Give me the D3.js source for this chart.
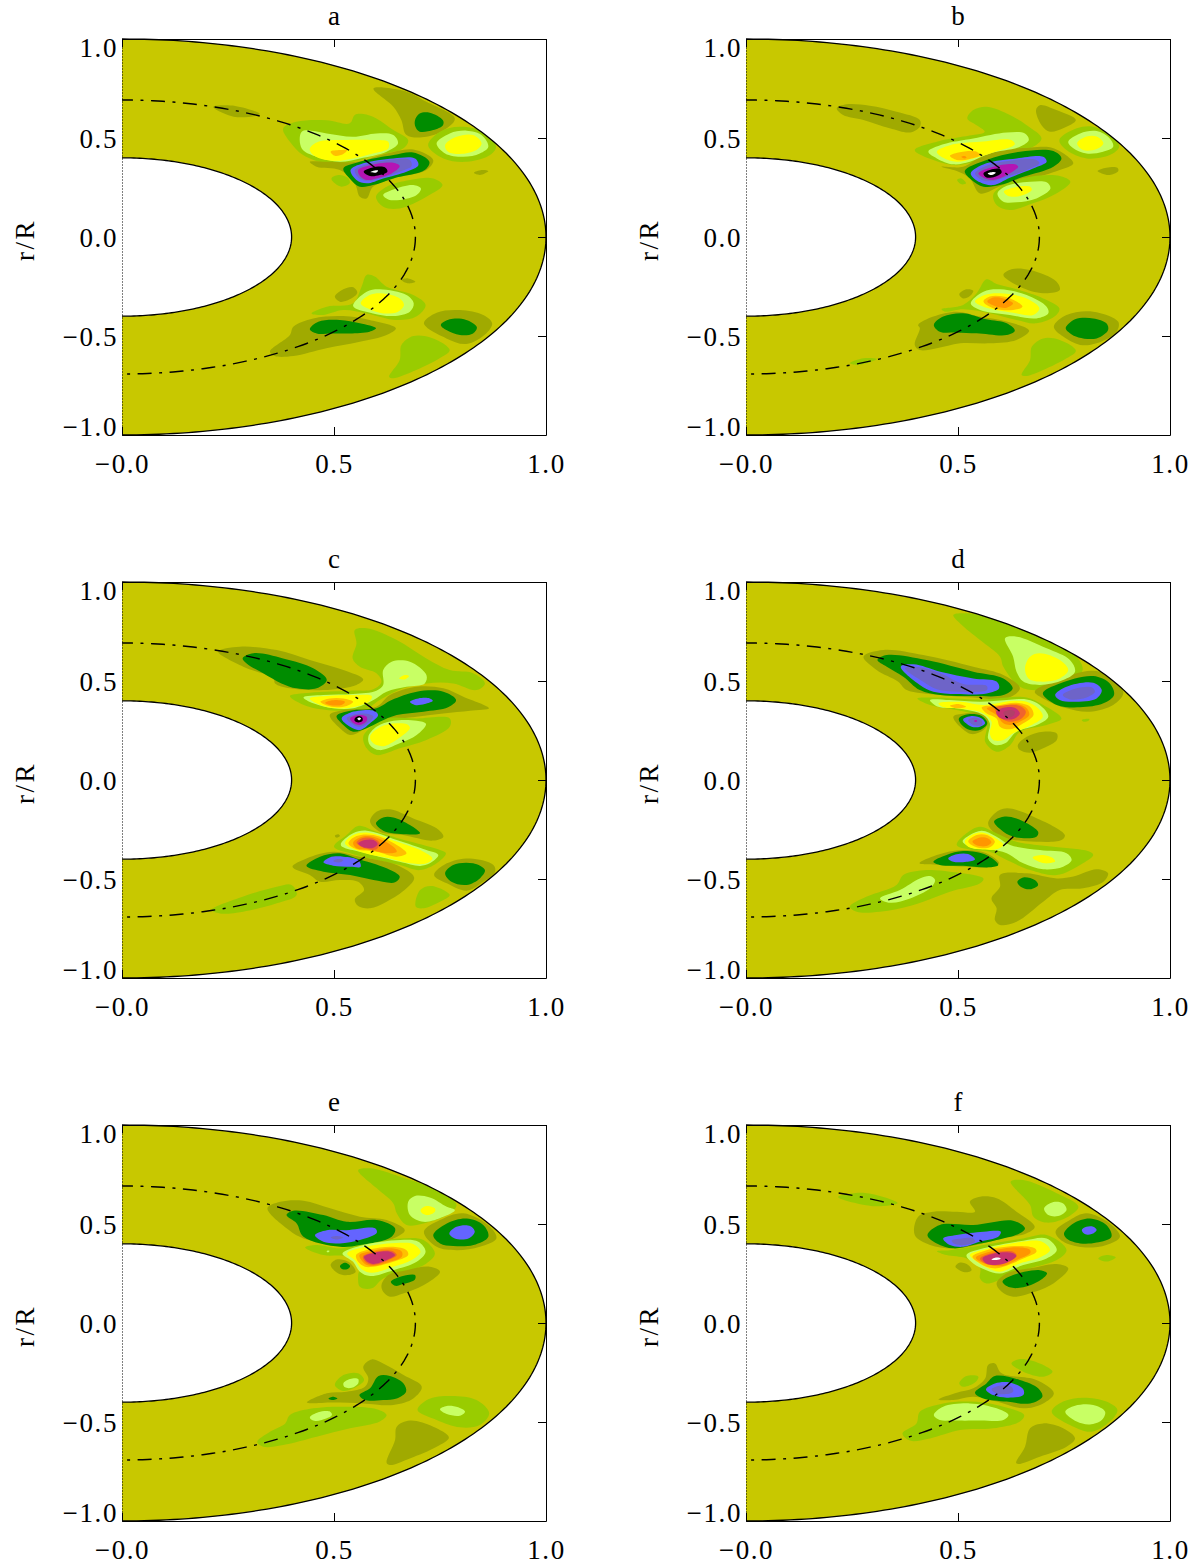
<!DOCTYPE html>
<html><head><meta charset="utf-8">
<script src="https://d3js.org/d3.v7.min.js"></script>
<style>html,body{margin:0;padding:0;background:#fff}svg{display:block}
text{font-family:"Liberation Serif",serif;fill:#000}</style></head><body>
<svg id="c" width="1197" height="1568"></svg>
<script>
const titles = ["a","b","c","d","e","f"];
const xTicks = [0, 0.5, 1];
const yTicks = [-1, -0.5, 0, 0.5, 1];
const xTickLabels = ["\u22120.0", "0.5", "1.0"];
const yTickLabels = ["\u22121.0", "\u22120.5", "0.0", "0.5", "1.0"];
const innerRadius = 0.4, midRadius = 0.692, outerRadius = 1;
const levelColors = {
 "-1":"#a0aa00","-2":"#008c00","-3":"#6464ff","-4":"#6e64c8","-5":"#b414b4","-6":"#000000","-7":"#ffffff",
 "1":"#99cc00","2":"#c8ff64","3":"#ffff00","4":"#ffc000","5":"#ff9600","6":"#f0642d","7":"#c83270","8":"#b04068","9":"#ffffff"};

const panelA = [
[-1,[.593,.75,.671,.734,.718,.683,.785,.599,.765,.548,.718,.506,.671,.515,.659,.590,.640,.658]],
[-2,[.691,.590,.702,.624,.726,.628,.757,.590,.757,.565,.734,.540,.702,.532,.692,.557]],
[1,[.380,.548,.411,.582,.483,.590,.537,.574,.549,.616,.569,.621,.600,.599,.640,.540,.675,.489,.663,.447,.600,.414,.545,.380,.483,.372,.427,.414,.396,.481]],
[2,[.424,.532,.483,.523,.545,.506,.600,.523,.640,.515,.651,.473,.624,.431,.561,.397,.514,.380,.459,.405,.424,.447]],
[3,[.443,.447,.463,.481,.522,.490,.592,.490,.628,.481,.628,.447,.592,.422,.545,.397,.506,.385,.467,.397,.447,.422]],
[4,[.492,.431,.514,.439,.531,.439,.522,.419,.502,.410]],
[-1,[.443,.380,.483,.380,.553,.380,.624,.422,.687,.442,.734,.389,.718,.338,.640,.296,.592,.254,.577,.195,.561,.203,.549,.270,.514,.338,.459,.355]],
[-2,[.522,.346,.561,.380,.640,.414,.687,.427,.725,.380,.714,.338,.640,.296,.592,.262,.561,.254,.537,.296]],
[-3,[.539,.338,.569,.372,.640,.397,.691,.397,.699,.363,.671,.330,.616,.296,.577,.271,.553,.288]],
[-4,[.549,.338,.577,.368,.640,.392,.679,.389,.683,.358,.655,.330,.608,.296,.577,.284,.557,.301]],
[-5,[.557,.338,.585,.363,.640,.375,.655,.358,.636,.321,.600,.296,.577,.288,.561,.308]],
[-6,[.570,.330,.589,.350,.620,.352,.626,.330,.608,.313,.585,.308]],
[-7,[.586,.328,.596,.336,.604,.336,.600,.326]],
[1,[.494,.296,.510,.313,.534,.296,.537,.271,.518,.254,.502,.271]],
[1,[.722,.464,.750,.532,.797,.557,.852,.532,.882,.456,.868,.414,.813,.380,.758,.397]],
[2,[.742,.473,.773,.523,.813,.537,.848,.515,.864,.456,.844,.422,.805,.405,.762,.422]],
[3,[.762,.464,.789,.506,.828,.515,.848,.473,.836,.439,.797,.419,.769,.431]],
[-1,[.830,.324,.848,.338,.864,.333,.844,.313]],
[1,[.599,.203,.624,.254,.679,.288,.734,.296,.756,.262,.718,.203,.655,.144,.616,.153]],
[2,[.616,.212,.640,.240,.687,.262,.705,.245,.695,.212,.655,.187,.628,.190]],
[-1,[.215,.657,.267,.662,.325,.621,.267,.606]],
[1,[.447,-.386,.483,-.352,.545,-.335,.565,-.251,.577,-.192,.596,-.200,.624,-.251,.687,-.293,.716,-.343,.694,-.402,.647,-.419,.577,-.386,.522,-.369,.474,-.394]],
[2,[.545,-.349,.577,-.276,.608,-.264,.671,-.293,.688,-.335,.679,-.377,.640,-.399,.592,-.386]],
[3,[.563,-.335,.584,-.293,.616,-.285,.655,-.310,.665,-.343,.651,-.377,.616,-.386,.584,-.365]],
[-1,[.502,-.301,.522,-.264,.545,-.254,.555,-.281,.537,-.315,.514,-.327]],
[-1,[.659,-.217,.675,-.209,.692,-.226,.675,-.234]],
[-1,[.349,-.579,.396,-.495,.404,-.453,.451,-.411,.522,-.399,.584,-.419,.646,-.461,.624,-.495,.561,-.529,.482,-.562,.404,-.601,.360,-.601]],
[-2,[.443,-.466,.463,-.428,.514,-.419,.561,-.436,.599,-.461,.584,-.478,.537,-.487,.494,-.487,.459,-.487]],
[-1,[.712,-.436,.742,-.382,.797,-.369,.852,-.394,.873,-.436,.859,-.487,.812,-.540,.765,-.512]],
[-2,[.752,-.444,.773,-.416,.812,-.419,.837,-.456,.828,-.487,.797,-.495,.765,-.470]],
[1,[.630,-.706,.655,-.621,.659,-.546,.687,-.500,.734,-.512,.773,-.571,.749,-.613,.694,-.672,.639,-.714]]
];

const panelB = [
[-1,[.214,.650,.237,.670,.292,.663,.355,.633,.410,.591,.410,.557,.387,.528,.339,.549,.277,.591,.229,.616]],
[1,[.398,.439,.450,.481,.512,.507,.563,.532,.544,.565,.522,.599,.536,.641,.567,.658,.615,.624,.662,.565,.697,.498,.670,.448,.607,.422,.552,.389,.497,.363,.442,.389]],
[2,[.430,.431,.465,.468,.536,.498,.615,.528,.658,.523,.667,.490,.646,.456,.575,.422,.528,.380,.489,.367,.450,.397]],
[3,[.450,.431,.481,.464,.552,.481,.626,.490,.634,.468,.583,.427,.536,.397,.497,.380,.465,.400]],
[4,[.481,.410,.501,.427,.544,.431,.552,.414,.528,.394,.497,.389]],
[5,[.508,.405,.516,.409,.520,.400,.514,.397]],
[-1,[.684,.641,.693,.666,.732,.641,.778,.591,.748,.549,.717,.532,.697,.565]],
[1,[.739,.490,.780,.549,.819,.557,.858,.515,.880,.456,.858,.414,.803,.397,.756,.439]],
[2,[.760,.481,.788,.523,.827,.535,.858,.498,.866,.456,.842,.431,.803,.422,.772,.448]],
[3,[.781,.473,.803,.507,.827,.507,.843,.473,.827,.444,.795,.439]],
[-1,[.829,.333,.850,.350,.876,.350,.878,.333,.858,.313,.839,.321]],
[-1,[.461,.355,.512,.355,.567,.422,.670,.451,.725,.448,.772,.372,.740,.338,.662,.288,.607,.262,.552,.220,.528,.296,.497,.333]],
[-2,[.516,.333,.567,.389,.646,.431,.725,.434,.744,.397,.725,.355,.654,.304,.599,.262,.560,.254,.532,.288]],
[-3,[.530,.321,.567,.372,.638,.397,.701,.405,.709,.380,.677,.346,.622,.299,.583,.262,.552,.276]],
[-4,[.540,.321,.571,.363,.638,.389,.685,.389,.692,.372,.662,.338,.615,.304,.583,.283,.556,.288]],
[-5,[.548,.321,.583,.355,.634,.367,.642,.355,.615,.313,.583,.288,.560,.299]],
[-6,[.560,.321,.583,.343,.599,.343,.603,.326,.587,.304,.567,.301]],
[-7,[.570,.321,.583,.328,.589,.325,.579,.313]],
[1,[.583,.212,.607,.262,.670,.304,.740,.308,.765,.279,.732,.220,.677,.170,.622,.136,.591,.161]],
[2,[.593,.220,.615,.259,.670,.279,.709,.276,.718,.245,.685,.195,.638,.175,.607,.178]],
[3,[.608,.229,.630,.249,.670,.254,.674,.237,.646,.207,.618,.207]],
[1,[.498,.288,.508,.296,.519,.271,.508,.266]],
[-1,[.607,-.192,.626,-.163,.670,-.167,.732,-.225,.740,-.268,.701,-.284,.646,-.251]],
[1,[.461,-.365,.512,-.343,.544,-.284,.567,-.214,.591,-.237,.638,-.264,.701,-.310,.739,-.360,.732,-.394,.685,-.436,.638,-.419,.575,-.385,.512,-.365,.469,-.377]],
[-1,[.503,-.289,.520,-.264,.536,-.271,.528,-.298,.512,-.310]],
[2,[.530,-.335,.560,-.276,.599,-.264,.662,-.293,.709,-.352,.713,-.385,.685,-.411,.622,-.394,.552,-.369]],
[3,[.540,-.326,.563,-.293,.599,-.284,.662,-.310,.692,-.360,.677,-.394,.630,-.382,.560,-.352]],
[4,[.560,-.326,.575,-.301,.607,-.301,.638,-.326,.652,-.352,.630,-.369,.583,-.360]],
[5,[.569,-.326,.583,-.306,.607,-.310,.630,-.335,.615,-.357,.587,-.348]],
[-1,[.398,-.545,.410,-.461,.406,-.444,.442,-.402,.497,-.377,.552,-.402,.615,-.427,.668,-.473,.638,-.520,.575,-.537,.505,-.537,.450,-.562,.410,-.571]],
[-2,[.443,-.444,.465,-.402,.512,-.385,.567,-.416,.615,-.436,.634,-.473,.615,-.495,.544,-.486,.497,-.483,.457,-.478]],
[-1,[.726,-.453,.756,-.394,.819,-.377,.878,-.428,.874,-.478,.827,-.537,.788,-.545,.748,-.503]],
[-2,[.754,-.461,.776,-.416,.819,-.411,.850,-.436,.854,-.470,.827,-.512,.784,-.507,.764,-.486]],
[1,[.650,-.697,.670,-.621,.674,-.554,.701,-.512,.740,-.520,.778,-.574,.756,-.613,.701,-.672,.662,-.702]],
[1,[.245,-.638,.277,-.613,.308,-.616,.284,-.638,.261,-.646]]
];

const panelC = [
[1,[.549,.757,.577,.766,.648,.707,.718,.614,.773,.555,.828,.539,.856,.488,.836,.454,.781,.488,.718,.488,.663,.463,.608,.404,.577,.362,.506,.350,.435,.374,.396,.424,.443,.441,.538,.451,.593,.458,.612,.496,.600,.539,.561,.572,.544,.614,.553,.690]],
[2,[.428,.417,.475,.429,.545,.434,.600,.451,.616,.480,.616,.555,.636,.597,.679,.597,.718,.530,.714,.488,.671,.471,.624,.446,.593,.404,.545,.362,.498,.362,.451,.387]],
[3,[.654,.513,.667,.530,.677,.525,.667,.508]],
[3,[.443,.412,.483,.424,.545,.429,.589,.424,.585,.400,.545,.367,.506,.362,.467,.379]],
[4,[.468,.395,.490,.412,.522,.412,.545,.395,.530,.374,.494,.370]],
[5,[.479,.390,.502,.404,.526,.395,.518,.379,.490,.379]],
[-1,[.227,.648,.278,.673,.365,.656,.443,.606,.522,.555,.569,.508,.553,.480,.475,.454,.396,.463,.361,.488,.357,.513,.286,.572]],
[-2,[.2845,.614,.310,.640,.380,.614,.451,.564,.483,.505,.459,.463,.412,.463,.376,.488,.333,.539,.294,.589]],
[-1,[.490,.328,.522,.353,.600,.370,.632,.429,.695,.471,.758,.463,.805,.421,.866,.362,.821,.350,.758,.336,.695,.320,.624,.303,.593,.286,.561,.244,.538,.227,.514,.261]],
[-2,[.506,.323,.538,.350,.600,.362,.636,.404,.695,.446,.758,.446,.788,.404,.769,.367,.711,.345,.648,.328,.608,.294,.577,.261,.545,.244,.522,.278]],
[-3,[.679,.395,.699,.412,.726,.412,.733,.400,.714,.384,.691,.379]],
[-3,[.518,.311,.538,.340,.593,.350,.604,.328,.585,.286,.561,.252,.538,.269]],
[-4,[.530,.311,.553,.333,.585,.331,.593,.320,.573,.278,.557,.269,.541,.286]],
[-5,[.538,.311,.557,.328,.577,.320,.577,.298,.561,.278,.547,.286]],
[-6,[.549,.311,.559,.323,.567,.315,.567,.298,.557,.291,.549,.298]],
[-7,[.555,.310,.559,.316,.564,.310,.559,.301]],
[1,[.569,.219,.593,.278,.624,.311,.695,.311,.773,.311,.773,.269,.718,.202,.655,.160,.600,.126,.577,.160]],
[2,[.581,.219,.600,.269,.640,.299,.695,.299,.717,.283,.695,.227,.655,.185,.608,.151,.585,.176]],
[3,[.585,.219,.608,.266,.648,.286,.675,.278,.679,.261,.652,.210,.616,.171,.593,.185]],
[-1,[.585,-.210,.600,-.160,.632,-.148,.687,-.194,.742,-.244,.758,-.286,.734,-.306,.663,-.278,.608,-.261]],
[-2,[.599,-.219,.616,-.189,.640,-.189,.679,-.227,.703,-.269,.671,-.274,.616,-.256]],
[1,[.500,-.337,.530,-.278,.557,-.232,.600,-.261,.679,-.311,.750,-.354,.764,-.370,.742,-.421,.703,-.455,.655,-.429,.585,-.396,.538,-.370]],
[2,[.516,-.328,.545,-.269,.577,-.256,.648,-.303,.718,-.354,.746,-.379,.726,-.421,.703,-.434,.655,-.413,.577,-.370]],
[3,[.526,-.320,.545,-.278,.581,-.266,.648,-.311,.711,-.362,.732,-.396,.718,-.421,.679,-.421,.632,-.396,.561,-.362]],
[4,[.534,-.320,.553,-.283,.593,-.278,.648,-.328,.671,-.370,.648,-.387,.600,-.362,.553,-.350]],
[5,[.545,-.317,.561,-.290,.593,-.286,.640,-.337,.648,-.362,.624,-.370,.585,-.354,.553,-.345]],
[6,[.553,-.317,.565,-.295,.593,-.295,.608,-.320,.600,-.350,.573,-.345]],
[7,[.557,-.320,.573,-.303,.593,-.303,.603,-.323,.593,-.342,.569,-.340]],
[-1,[.502,-.281,.510,-.274,.514,-.283,.506,-.291]],
[-1,[.402,-.438,.435,-.396,.498,-.362,.561,-.387,.648,-.429,.689,-.492,.671,-.547,.624,-.615,.585,-.648,.557,-.636,.549,-.603,.571,-.556,.557,-.514,.514,-.505,.467,-.514,.443,-.480]],
[-2,[.435,-.433,.467,-.387,.514,-.370,.553,-.396,.624,-.446,.655,-.488,.644,-.517,.593,-.505,.538,-.480,.475,-.463]],
[-3,[.475,-.416,.490,-.391,.522,-.387,.557,-.404,.563,-.438,.538,-.438,.498,-.433]],
[-4,[.498,-.409,.510,-.399,.522,-.404,.514,-.416]],
[-1,[.736,-.480,.766,-.421,.821,-.396,.876,-.429,.880,-.463,.852,-.514,.813,-.559,.766,-.522]],
[-2,[.762,-.471,.781,-.429,.828,-.421,.856,-.455,.844,-.497,.813,-.530,.777,-.514]],
[1,[.693,-.640,.703,-.556,.730,-.535,.773,-.581,.750,-.615,.711,-.648]],
[1,[.211,-.657,.286,-.589,.365,-.539,.400,-.530,.412,-.581,.365,-.623,.286,-.665,.231,-.674]]
];

const panelD = [
[1,[.489,.833,.520,.842,.599,.808,.693,.724,.772,.640,.794,.555,.756,.488,.693,.454,.646,.471,.607,.572,.599,.623,.552,.707,.505,.791]],
[2,[.611,.716,.639,.724,.709,.665,.764,.606,.776,.547,.748,.505,.693,.480,.654,.497,.638,.547,.630,.623]],
[3,[.658,.564,.670,.623,.693,.640,.740,.606,.760,.555,.740,.513,.693,.497,.666,.513]],
[-1,[.277,.623,.324,.657,.418,.631,.536,.572,.607,.530,.646,.463,.615,.412,.536,.417,.458,.429,.379,.454,.359,.496,.308,.555]],
[-2,[.310,.606,.332,.631,.426,.606,.536,.547,.607,.513,.629,.463,.607,.429,.536,.424,.458,.429,.410,.454,.371,.522,.332,.572]],
[-3,[.365,.572,.395,.584,.458,.547,.536,.513,.591,.497,.597,.463,.568,.437,.497,.434,.442,.446,.410,.480]],
[-4,[.375,.564,.399,.572,.458,.539,.512,.485,.568,.475,.568,.454,.505,.446,.450,.458,.418,.496]],
[-1,[.681,.446,.733,.505,.819,.552,.874,.505,.890,.438,.866,.379,.811,.345,.756,.362,.701,.412]],
[-2,[.700,.438,.740,.488,.819,.525,.858,.488,.868,.429,.843,.387,.788,.367,.733,.379]],
[-3,[.729,.429,.756,.471,.819,.491,.839,.454,.827,.412,.772,.395,.740,.404]],
[-4,[.747,.429,.772,.458,.815,.468,.823,.446,.803,.417,.764,.407]],
[1,[.404,.412,.442,.417,.552,.407,.615,.417,.662,.417,.701,.379,.744,.311,.709,.278,.646,.244,.623,.176,.591,.143,.564,.193,.568,.278,.552,.320,.497,.353,.434,.379]],
[2,[.434,.404,.481,.404,.552,.395,.615,.404,.662,.407,.693,.379,.713,.320,.686,.278,.638,.244,.611,.185,.587,.177,.571,.210,.575,.286,.560,.328,.497,.362,.453,.370]],
[3,[.454,.387,.505,.395,.560,.379,.630,.400,.662,.395,.689,.362,.700,.320,.674,.278,.630,.236,.607,.202,.583,.202,.575,.236,.579,.294,.560,.336,.497,.362,.465,.367]],
[4,[.481,.375,.501,.384,.519,.370,.497,.362]],
[4,[.556,.367,.599,.379,.638,.390,.670,.370,.678,.328,.654,.286,.623,.256,.599,.269,.591,.311,.568,.336]],
[5,[.568,.362,.607,.374,.638,.384,.662,.362,.668,.328,.646,.294,.623,.278,.607,.286,.591,.328]],
[6,[.587,.362,.615,.379,.646,.374,.660,.345,.650,.311,.623,.294,.603,.311]],
[7,[.590,.345,.607,.365,.634,.365,.646,.336,.634,.311,.611,.306,.595,.320]],
[8,[.607,.340,.623,.353,.634,.345,.630,.323,.615,.316]],
[-1,[.489,.320,.516,.336,.560,.336,.571,.294,.560,.252,.532,.232,.505,.269]],
[-2,[.502,.311,.524,.332,.556,.323,.569,.286,.552,.252,.528,.252,.509,.278]],
[-3,[.512,.306,.532,.323,.556,.311,.564,.286,.552,.269,.532,.269,.519,.286]],
[-4,[.524,.303,.540,.315,.556,.300,.556,.278,.536,.278]],
[-5,[.538,.300,.544,.303,.545,.295,.540,.293]],
[-1,[.641,.176,.662,.219,.701,.244,.733,.235,.733,.202,.701,.160,.670,.138,.646,.151]],
[1,[.792,.303,.810,.308,.807,.298,.795,.295]],
[-1,[.571,-.219,.587,-.168,.615,-.143,.678,-.185,.752,-.278,.744,-.303,.685,-.312,.615,-.295,.583,-.261]],
[-2,[.585,-.210,.607,-.185,.638,-.194,.689,-.261,.685,-.286,.638,-.290,.607,-.261]],
[1,[.497,-.328,.520,-.269,.552,-.236,.591,-.269,.638,-.312,.725,-.337,.811,-.362,.819,-.379,.788,-.429,.733,-.480,.670,-.455,.615,-.404,.575,-.362,.536,-.354]],
[2,[.511,-.311,.528,-.278,.556,-.256,.591,-.286,.623,-.328,.693,-.354,.756,-.370,.768,-.404,.748,-.438,.701,-.451,.654,-.421,.615,-.370,.575,-.350,.536,-.345]],
[3,[.516,-.311,.536,-.273,.560,-.266,.595,-.303,.607,-.328,.591,-.350,.552,-.350,.524,-.337]],
[3,[.676,-.391,.701,-.379,.725,-.396,.729,-.412,.705,-.421,.685,-.407]],
[4,[.524,-.311,.544,-.278,.568,-.278,.587,-.311,.575,-.340,.544,-.340]],
[5,[.534,-.311,.552,-.290,.571,-.295,.579,-.315,.568,-.333,.544,-.330]],
[-1,[.409,-.421,.450,-.379,.512,-.354,.567,-.370,.597,-.421,.575,-.441,.520,-.438,.457,-.429]],
[-2,[.442,-.413,.473,-.379,.512,-.359,.567,-.379,.595,-.429,.575,-.441,.520,-.434,.457,-.429]],
[-3,[.477,-.396,.497,-.375,.524,-.374,.540,-.401,.520,-.413,.489,-.413]],
[-1,[.599,-.480,.662,-.471,.733,-.497,.772,-.488,.827,-.451,.854,-.471,.843,-.514,.795,-.547,.740,-.556,.701,-.615,.638,-.716,.599,-.732,.587,-.707,.591,-.648,.579,-.598,.599,-.539]],
[-2,[.640,-.514,.654,-.492,.681,-.505,.689,-.530,.670,-.552,.650,-.542]],
[1,[.245,-.640,.285,-.589,.355,-.530,.371,-.480,.426,-.455,.481,-.463,.560,-.497,.552,-.522,.481,-.564,.395,-.631,.316,-.665,.261,-.665]],
[2,[.316,-.598,.363,-.556,.410,-.497,.434,-.485,.446,-.505,.434,-.547,.387,-.598,.340,-.620]]
];

const panelE = [
[1,[.557,.772,.585,.781,.656,.739,.742,.671,.789,.596,.766,.545,.711,.503,.671,.495,.648,.554,.640,.604,.601,.680]],
[2,[.675,.612,.691,.641,.726,.634,.766,.587,.785,.570,.758,.537,.711,.511,.679,.545]],
[3,[.704,.570,.718,.591,.738,.579,.738,.562,.722,.545,.711,.550]],
[-1,[.343,.579,.373,.612,.428,.618,.491,.579,.561,.537,.624,.520,.667,.469,.640,.427,.593,.394,.522,.394,.428,.427,.388,.478]],
[-2,[.388,.545,.404,.567,.475,.545,.530,.511,.601,.520,.644,.478,.636,.436,.561,.394,.514,.385,.428,.436,.412,.503]],
[-3,[.455,.444,.483,.469,.530,.469,.597,.478,.601,.456,.561,.419,.514,.402,.475,.410]],
[-4,[.492,.432,.506,.439,.522,.432,.506,.422]],
[-1,[.712,.461,.750,.520,.805,.554,.868,.486,.883,.427,.844,.385,.789,.368,.742,.385]],
[-2,[.734,.444,.766,.503,.813,.528,.852,.495,.864,.436,.829,.394,.781,.389,.750,.402]],
[-3,[.772,.452,.789,.486,.821,.490,.832,.461,.817,.427,.785,.427]],
[1,[.432,.382,.459,.394,.514,.377,.553,.394,.656,.427,.711,.419,.738,.351,.718,.301,.671,.259,.616,.225,.589,.175,.561,.183,.557,.242,.561,.284,.530,.335,.475,.343]],
[2,[.520,.351,.561,.389,.656,.419,.699,.410,.716,.360,.695,.309,.640,.267,.585,.237,.561,.259,.545,.309]],
[2,[.483,.363,.489,.365,.488,.358,.483,.358]],
[3,[.531,.351,.569,.382,.656,.405,.687,.399,.704,.360,.683,.318,.640,.284,.589,.254,.565,.271,.549,.318]],
[4,[.552,.343,.585,.372,.640,.385,.671,.368,.675,.343,.640,.309,.593,.284,.573,.284,.557,.309]],
[5,[.560,.343,.593,.365,.636,.377,.660,.360,.660,.335,.632,.309,.593,.288,.573,.298]],
[6,[.568,.335,.597,.360,.636,.365,.648,.343,.624,.313,.593,.293,.577,.304]],
[7,[.571,.335,.597,.355,.632,.360,.644,.343,.624,.318,.593,.298,.579,.309]],
[-1,[.492,.293,.506,.321,.534,.309,.551,.259,.534,.242,.510,.250]],
[-2,[.514,.287,.526,.304,.538,.287,.531,.272,.520,.272]],
[-1,[.612,.191,.628,.242,.671,.267,.726,.284,.750,.259,.718,.200,.663,.149,.632,.133,.616,.158]],
[-2,[.634,.208,.656,.234,.691,.242,.691,.220,.663,.197,.644,.188]],
[-1,[.436,-.402,.483,-.355,.530,-.347,.573,-.322,.581,-.280,.569,-.221,.589,-.184,.616,-.204,.664,-.263,.707,-.322,.687,-.381,.640,-.414,.569,-.406,.498,-.402]],
[-2,[.560,-.364,.585,-.330,.605,-.268,.632,-.268,.664,-.305,.670,-.347,.648,-.381,.616,-.389,.573,-.389]],
[-2,[.487,-.381,.498,-.372,.508,-.381,.495,-.389]],
[1,[.502,-.313,.522,-.263,.557,-.254,.571,-.288,.553,-.322,.522,-.343]],
[2,[.522,-.305,.538,-.283,.557,-.283,.557,-.305,.542,-.327,.526,-.325]],
[1,[.697,-.440,.719,-.389,.766,-.369,.836,-.389,.866,-.456,.844,-.515,.797,-.527,.742,-.490]],
[2,[.750,-.436,.766,-.419,.793,-.426,.809,-.448,.797,-.468,.766,-.460]],
[1,[.319,-.600,.349,-.549,.385,-.507,.396,-.465,.451,-.431,.538,-.423,.601,-.436,.624,-.465,.608,-.498,.538,-.532,.459,-.574,.380,-.616,.333,-.625]],
[2,[.443,-.477,.463,-.451,.491,-.448,.495,-.465,.471,-.490,.451,-.493]],
[-1,[.624,-.706,.644,-.591,.648,-.524,.679,-.493,.734,-.524,.771,-.578,.742,-.625,.679,-.684,.632,-.717]]
];

const panelF = [
[1,[.217,.636,.280,.657,.358,.606,.300,.590]],
[1,[.624,.714,.654,.722,.733,.655,.784,.587,.760,.537,.709,.507,.678,.537,.670,.596]],
[2,[.703,.579,.725,.611,.748,.604,.756,.571,.736,.540,.713,.545]],
[-1,[.406,.537,.442,.562,.497,.562,.540,.562,.528,.613,.552,.638,.591,.630,.638,.562,.681,.486,.662,.453,.607,.428,.497,.377,.434,.394,.398,.444]],
[-2,[.428,.444,.457,.495,.536,.495,.630,.517,.658,.478,.646,.453,.591,.419,.536,.394,.489,.377,.450,.402]],
[-3,[.465,.427,.497,.444,.560,.461,.601,.461,.595,.436,.552,.411,.513,.385,.481,.394]],
[-4,[.485,.416,.509,.427,.536,.427,.540,.411,.516,.394,.493,.399]],
[-1,[.730,.461,.764,.520,.803,.554,.858,.503,.882,.436,.850,.394,.795,.382,.748,.411]],
[-2,[.750,.453,.772,.503,.811,.528,.850,.495,.862,.436,.827,.406,.788,.402,.756,.427]],
[-3,[.792,.470,.803,.486,.819,.486,.827,.470,.815,.449,.799,.449]],
[1,[.831,.326,.850,.343,.872,.331,.850,.310]],
[1,[.450,.363,.481,.368,.528,.382,.654,.427,.709,.444,.756,.369,.733,.318,.670,.276,.607,.225,.567,.200,.552,.225,.552,.276,.520,.326,.473,.343]],
[2,[.520,.343,.560,.377,.654,.416,.709,.427,.733,.369,.709,.326,.654,.293,.599,.250,.567,.267,.536,.301]],
[3,[.528,.343,.563,.372,.654,.411,.697,.411,.717,.369,.693,.331,.646,.301,.599,.259,.571,.276,.544,.310]],
[4,[.534,.335,.567,.368,.646,.389,.681,.377,.685,.360,.654,.326,.607,.284,.583,.276,.552,.301]],
[5,[.542,.331,.575,.360,.638,.382,.670,.369,.670,.352,.638,.318,.607,.288,.575,.293,.552,.310]],
[6,[.552,.326,.583,.355,.630,.360,.638,.343,.615,.310,.591,.293,.567,.298]],
[7,[.558,.326,.587,.352,.626,.355,.638,.338,.615,.304,.587,.293,.567,.301]],
[9,[.579,.321,.591,.331,.601,.326,.591,.318]],
[-1,[.494,.284,.505,.305,.524,.293,.532,.267,.516,.256]],
[-1,[.591,.200,.615,.251,.670,.276,.733,.298,.760,.276,.725,.200,.670,.150,.630,.133,.603,.158]],
[-2,[.605,.209,.630,.242,.693,.267,.710,.251,.689,.209,.654,.180,.622,.180]],
[1,[.626,-.204,.646,-.182,.693,-.204,.723,-.246,.701,-.271,.654,-.246]],
[1,[.503,-.305,.520,-.268,.548,-.271,.540,-.301,.512,-.322]],
[-1,[.454,-.386,.497,-.352,.536,-.330,.564,-.280,.571,-.212,.587,-.204,.603,-.254,.685,-.288,.726,-.355,.701,-.406,.654,-.431,.591,-.397,.536,-.372,.489,-.389]],
[-2,[.540,-.352,.567,-.305,.587,-.268,.646,-.288,.689,-.330,.699,-.372,.670,-.406,.615,-.397,.560,-.381]],
[-3,[.566,-.335,.587,-.305,.622,-.300,.654,-.335,.654,-.364,.615,-.377,.583,-.364]],
[-4,[.579,-.335,.599,-.317,.626,-.322,.630,-.347,.607,-.360,.587,-.352]],
[1,[.369,-.557,.402,-.507,.410,-.448,.465,-.406,.528,-.397,.591,-.414,.656,-.465,.646,-.498,.583,-.532,.505,-.541,.434,-.583,.387,-.594]],
[2,[.443,-.465,.465,-.423,.528,-.406,.591,-.431,.619,-.465,.607,-.490,.552,-.493,.489,-.493,.457,-.490]],
[1,[.721,-.448,.748,-.397,.795,-.377,.850,-.397,.876,-.439,.858,-.498,.815,-.549,.764,-.515]],
[2,[.753,-.448,.776,-.418,.819,-.414,.847,-.448,.839,-.490,.811,-.512,.780,-.498]],
[-1,[.637,-.706,.658,-.625,.670,-.532,.701,-.507,.748,-.532,.776,-.583,.756,-.625,.693,-.675,.642,-.712]]
];

const panels = [panelA, panelB, panelC, panelD, panelE, panelF];
const svg = d3.select("#c");
const plotW = 424, plotH = 396;
const lefts = [122, 746], tops = [39, 582, 1125];
const x = d3.scaleLinear().domain([0, 1]).range([0, plotW]);
const y = d3.scaleLinear().domain([-1, 1]).range([plotH, 0]);
const angles = d3.range(-90, 90.5, 1).map(d => d * Math.PI / 180);
const halfEllipse = r => angles.map(t => [r * Math.cos(t), r * Math.sin(t)]);
const line = d3.line().x(d => x(d[0])).y(d => y(d[1]));
const blob = d3.line().x(d => x(d[0])).y(d => y(d[1])).curve(d3.curveCatmullRomClosed.alpha(0.5));
const annulusD = line(halfEllipse(outerRadius)) + "L" + line(halfEllipse(innerRadius).reverse()).slice(1) + "Z";

svg.append("defs").append("clipPath").attr("id", "ann").append("path").attr("d", annulusD);

panels.forEach((shapes, i) => {
  const g = svg.append("g").attr("transform", `translate(${lefts[i % 2]},${tops[Math.floor(i / 2)]})`);
  g.append("path").attr("d", annulusD).attr("fill", "#c8c800");
  const sorted = shapes.slice().sort((a, b) => Math.abs(a[0]) - Math.abs(b[0]));
  g.append("g").attr("clip-path", "url(#ann)").selectAll("path").data(sorted).join("path")
    .attr("d", d => blob(d3.range(0, d[1].length, 2).map(j => [d[1][j], d[1][j + 1]])))
    .attr("fill", d => levelColors[d[0]]);
  g.append("path").attr("d", line(halfEllipse(outerRadius))).attr("fill", "none").attr("stroke", "#000").attr("stroke-width", 1.3);
  g.append("path").attr("d", line(halfEllipse(innerRadius))).attr("fill", "none").attr("stroke", "#000").attr("stroke-width", 1.3);
  g.append("path").attr("d", line(halfEllipse(midRadius).reverse())).attr("fill", "none").attr("stroke", "#000").attr("stroke-width", 1.4)
    .attr("stroke-dasharray", "14,7.5,3,7.5").attr("stroke-dashoffset", 3);

  const axisStyle = a => { a.selectAll("path,line").attr("stroke", "#000").attr("stroke-width", 1); a.selectAll("text").attr("font-size", 27).style("letter-spacing", "1.6px").attr("fill", "#000"); };
  g.append("g").attr("transform", `translate(0,${plotH})`)
    .call(d3.axisBottom(x).tickValues(xTicks).tickSizeInner(-8).tickSizeOuter(0).tickPadding(19).tickFormat((d, j) => xTickLabels[j]))
    .call(axisStyle);
  g.append("g").call(d3.axisTop(x).tickValues(xTicks).tickSizeInner(-8).tickSizeOuter(0).tickFormat("")).call(axisStyle);
  g.append("g").attr("transform", `translate(${plotW},0)`)
    .call(d3.axisRight(y).tickValues(yTicks).tickSizeInner(-8).tickSizeOuter(0).tickFormat("")).call(axisStyle);
  const yAx = g.append("g")
    .call(d3.axisLeft(y).tickValues(yTicks).tickSizeInner(0).tickSizeOuter(0).tickPadding(4).tickFormat((d, j) => yTickLabels[j]))
    .call(axisStyle);
  yAx.select("path.domain").attr("stroke-dasharray", "1,2");
  yAx.selectAll("g.tick text").attr("dy", d => d === 1 ? "0.63em" : d === -1 ? "0.03em" : "0.34em");

  g.append("text").attr("x", plotW / 2).attr("y", -14.5).attr("text-anchor", "middle").attr("font-size", 27).text(titles[i]);
  g.append("text").attr("transform", `translate(-88,${plotH / 2 + 3}) rotate(-90)`).attr("text-anchor", "middle").attr("font-size", 27).style("letter-spacing", "2.5px").text("r/R");
});
</script></body></html>
